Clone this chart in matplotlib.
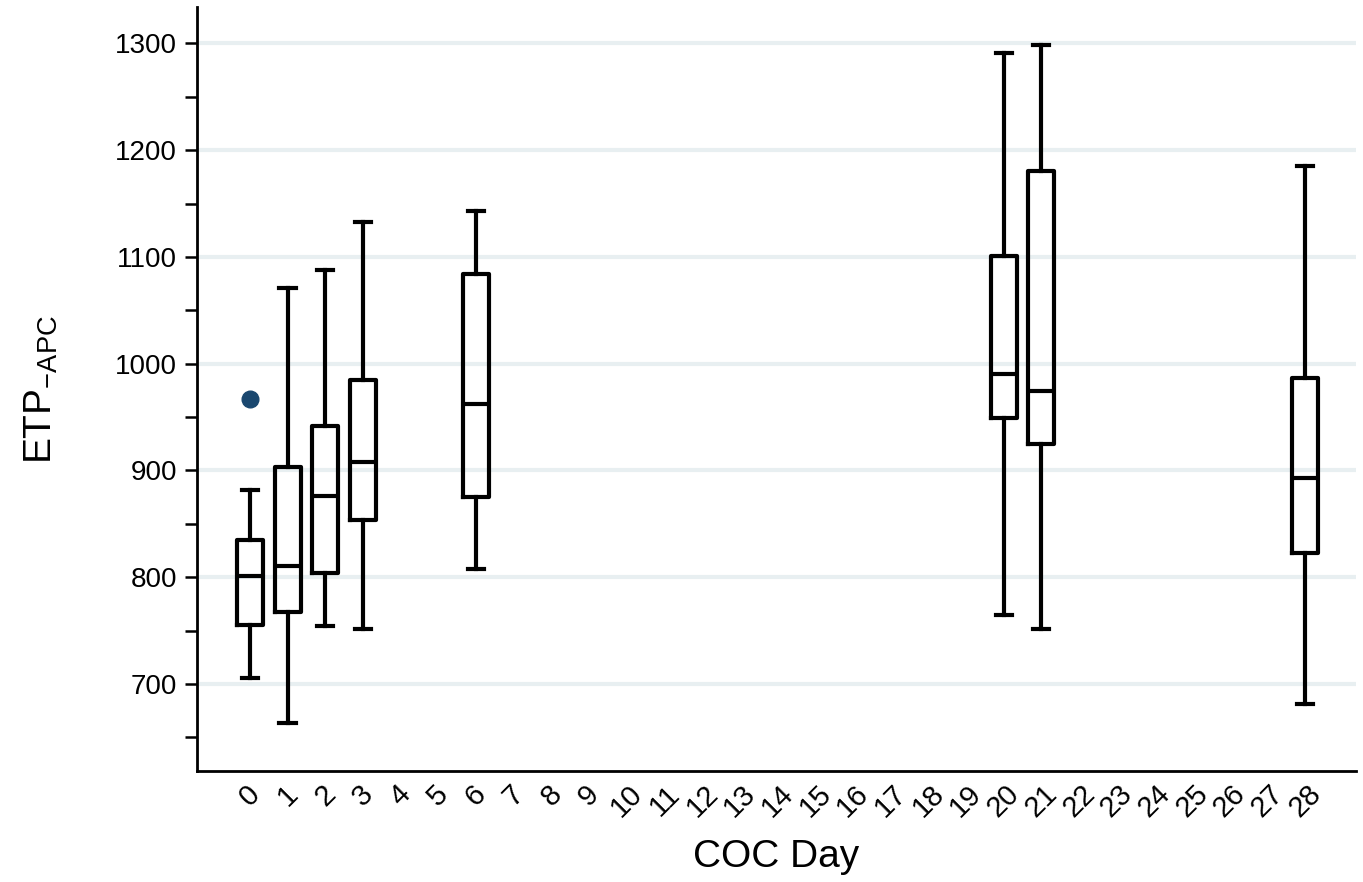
import matplotlib
matplotlib.use("Agg")
import matplotlib.pyplot as plt
import numpy as np

plt.rcParams['font.family'] = ['Liberation Sans', 'DejaVu Sans']
plt.rcParams['mathtext.default'] = 'regular'

# x categories shown on the axis
days = list(range(29))

# box statistics (days with data)
box_days = [0, 1, 2, 3, 6, 20, 21, 28]
whislo = [706, 663, 754, 751, 808, 765, 751, 681]
q1 = [755, 767, 804, 854, 875, 949, 925, 823]
med = [801, 810, 876, 908, 962, 990, 974, 893]
q3 = [835, 903, 942, 985, 1084, 1101, 1180, 987]
whishi = [882, 1071, 1088, 1133, 1143, 1291, 1298, 1185]
outliers = [[967], [], [], [], [], [], [], []]

stats = []
for i in range(len(box_days)):
    stats.append(dict(whislo=whislo[i], q1=q1[i], med=med[i], q3=q3[i],
                      whishi=whishi[i], fliers=outliers[i]))

fig = plt.figure(figsize=(13.63, 8.82), dpi=100)
ax = fig.add_axes([0.1443, 0.1253, 0.8506, 0.8667])

lw = 3.0
ax.bxp(stats, positions=box_days, widths=0.69, showfliers=True,
       boxprops=dict(color='black', linewidth=lw),
       medianprops=dict(color='black', linewidth=lw),
       whiskerprops=dict(color='black', linewidth=lw),
       capprops=dict(color='black', linewidth=lw),
       capwidths=0.43,
       flierprops=dict(marker='o', markerfacecolor='#1a476f',
                       markeredgecolor='#1a476f', markersize=12),
       manage_ticks=False, zorder=3)

ax.set_xlim(-1.41, 29.35)
ax.set_ylim(618, 1334)

ax.set_yticks(np.arange(700, 1301, 100))
ax.set_yticks(np.arange(650, 1300, 100), minor=True)
ax.yaxis.grid(True, which='major', color='#e8eff1', linewidth=3, zorder=0)
ax.set_axisbelow(True)

ax.set_xticks(days)
ax.set_xticklabels([str(d) for d in days], rotation=45, ha='center', fontsize=21)
ax.tick_params(axis='x', length=0, pad=6)
ax.tick_params(axis='y', which='both', length=9, width=1.8, labelsize=20, pad=5)

for s in ['top', 'right']:
    ax.spines[s].set_visible(False)
for s in ['left', 'bottom']:
    ax.spines[s].set_linewidth(2.0)

ax.set_xlabel('COC Day', fontsize=28, labelpad=12)
ax.set_ylabel(r'ETP$_{-APC}$', fontsize=28, labelpad=40)

fig.savefig('out.png', dpi=100)
